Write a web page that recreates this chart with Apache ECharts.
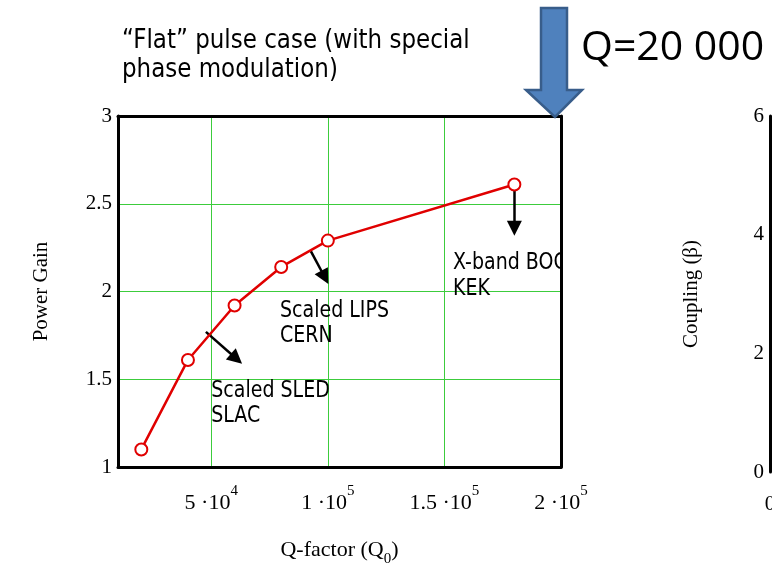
<!DOCTYPE html>
<html><head><meta charset="utf-8">
<script src="https://cdn.jsdelivr.net/npm/echarts@6/dist/echarts.min.js"></script>
<style>html,body{margin:0;padding:0;background:#fff}#c{width:772px;height:567px}</style>
</head><body><div id="c"></div>
<script>
// ---- data ----
const qFactor = [20000, 40000, 60000, 80000, 100000, 180000];
const powerGain = [1.10, 1.61, 1.92, 2.14, 2.29, 2.61];
const xLabelValues = [50000, 100000, 150000, 200000];
const xGridValues = [50000, 100000, 150000];
const xMantissa = ['5', '1', '1.5', '2'];
const xExponent = ['4', '5', '5', '5'];
const annotationTexts = ['Scaled SLED\nSLAC', 'Scaled LIPS\nCERN', 'X-band BOC\nKEK'];
const arrowFrom = [[47700, 1.77], [92700, 2.23], [180000, 2.60]];
const arrowTo = [[60800, 1.617], [98700, 2.081], [180000, 2.36]];
const textAnchor = [[50000, 1.507], [79500, 1.963], [153700, 2.236]];
const titleText = '\u201CFlat\u201D pulse case (with special\nphase modulation)';
const qText = 'Q=20 000';

const serif = '"Liberation Serif", "Times New Roman", serif';
const sans = '"DejaVu Sans", sans-serif';
const green = '#3ccc3c';

const chart = echarts.init(document.getElementById('c'), null, {renderer: 'canvas'});

const frameAxis = {
  axisLine: {show: true, onZero: false, lineStyle: {color: '#000', width: 3}},
  axisTick: {show: false}, axisLabel: {show: false}, splitLine: {show: false}
};

const option = {
  animation: false,
  backgroundColor: '#fff',
  grid: [
    {left: 118, right: 211, top: 116, bottom: 100, outerBoundsMode: 'none', containLabel: false},
    {left: 770, width: 8, top: 116, bottom: 95, outerBoundsMode: 'none', containLabel: false}
  ],
  xAxis: [
    {
      gridIndex: 0, type: 'value', min: 10000, max: 200000,
      axisLine: {show: true, onZero: false, lineStyle: {color: '#000', width: 3}},
      axisTick: {show: false, customValues: xGridValues},
      splitLine: {show: true, lineStyle: {color: green, width: 1}},
      axisLabel: {
        customValues: xLabelValues, margin: 17, showMinLabel: true, showMaxLabel: true,
        formatter: function (v) {
          const i = xLabelValues.indexOf(v);
          if (i < 0) return '';
          return '{m|' + xMantissa[i] + ' \u00B710}{s|' + xExponent[i] + '}';
        },
        rich: {
          m: {fontFamily: serif, fontSize: 22, color: '#000', lineHeight: 30, verticalAlign: 'bottom'},
          s: {fontFamily: serif, fontSize: 15, color: '#000', lineHeight: 16, verticalAlign: 'top'}
        }
      },
      name: '{n|Q-factor (Q}{b|0}{n|)}', nameLocation: 'middle', nameGap: 72,
      nameTextStyle: {
        rich: {
          n: {fontFamily: serif, fontSize: 22, color: '#000', lineHeight: 28, verticalAlign: 'top'},
          b: {fontFamily: serif, fontSize: 15, color: '#000', lineHeight: 16, verticalAlign: 'bottom'}
        }
      }
    },
    Object.assign({gridIndex: 0, type: 'value', min: 10000, max: 200000, position: 'top'}, frameAxis),
    {
      gridIndex: 1, type: 'value', min: 0, max: 1,
      axisLine: {show: false}, axisTick: {show: false}, splitLine: {show: false},
      axisLabel: {customValues: [0], margin: 22, fontFamily: serif, fontSize: 21, color: '#000'}
    }
  ],
  yAxis: [
    {
      gridIndex: 0, type: 'value', min: 1, max: 3, interval: 0.5,
      axisLine: {show: true, onZero: false, lineStyle: {color: '#000', width: 3}},
      axisTick: {show: false},
      splitLine: {show: true, lineStyle: {color: green, width: 1}},
      axisLabel: {margin: 6, fontFamily: serif, fontSize: 21, color: '#000'},
      name: 'Power Gain', nameLocation: 'middle', nameGap: 66,
      nameTextStyle: {fontFamily: serif, fontSize: 21, color: '#000'}
    },
    Object.assign({gridIndex: 0, type: 'value', min: 1, max: 3, position: 'right'}, frameAxis),
    {
      gridIndex: 1, type: 'value', min: 0, max: 6, interval: 2,
      axisLine: {show: true, onZero: false, lineStyle: {color: '#000', width: 3}},
      axisTick: {show: false}, splitLine: {show: false},
      axisLabel: {margin: 6, fontFamily: serif, fontSize: 21, color: '#000'},
      name: 'Coupling (\u03B2)', nameLocation: 'middle', nameGap: 68,
      nameTextStyle: {fontFamily: serif, fontSize: 21, color: '#000'}
    }
  ],
  series: [{
    type: 'line', xAxisIndex: 0, yAxisIndex: 0,
    data: qFactor.map((q, i) => [q, powerGain[i]]),
    color: '#e00000',
    lineStyle: {color: '#e00000', width: 2.5},
    symbol: 'emptyCircle', symbolSize: 12,
    itemStyle: {color: '#e00000', borderColor: '#e00000', borderWidth: 2.5},
    z: 5,
    markLine: {
      silent: true, animation: false,
      symbol: ['none', 'triangle'], symbolSize: 15,
      lineStyle: {color: '#000', width: 2.5, type: 'solid'},
      itemStyle: {color: '#000'},
      label: {show: false},
      data: arrowFrom.map((s, i) => [{coord: s}, {coord: arrowTo[i]}])
    }
  }]
};
chart.setOption(option);

const annot = textAnchor.map((a, i) => {
  const p = chart.convertToPixel({seriesIndex: 0}, a);
  return {
    type: 'text', x: p[0], y: p[1], scaleY: 1.22, z: 20,
    style: {text: annotationTexts[i], x: 0, y: 0, font: '19px ' + sans, fill: '#000',
            lineHeight: 21, verticalAlign: 'top', align: 'left'}
  };
});

chart.setOption({
  graphic: annot.concat([
    {
      type: 'rect', z: 30,
      shape: {x: 563, y: 240, width: 14, height: 35},
      style: {fill: '#fff'}
    },
    {
      type: 'text', x: 122, y: 27, scaleY: 1.15, z: 20,
      style: {text: titleText, x: 0, y: 0, font: '23px ' + sans, fill: '#000',
              lineHeight: 25, verticalAlign: 'top', align: 'left'}
    },
    {
      type: 'text', x: 581, y: 48, z: 20,
      style: {text: qText, x: 0, y: 0, font: '41px "Open Sans", sans-serif', fill: '#000',
              verticalAlign: 'middle', align: 'left'}
    },
    {
      type: 'polygon', z: 100,
      shape: {points: [[541, 8], [567, 8], [567, 90], [582, 90], [555, 117], [526, 90], [541, 90]]},
      style: {fill: '#4F81BD', stroke: '#385D8A', lineWidth: 2.5}
    }
  ])
});
</script>
</body></html>
